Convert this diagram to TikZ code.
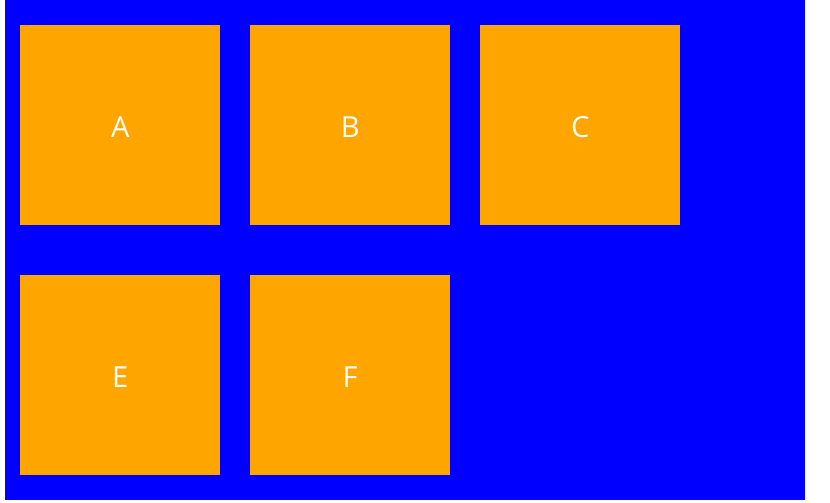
\documentclass[tikz,border=0pt]{standalone}
\usepackage{fontspec}
\setmainfont{Open Sans}
\begin{document}
\begin{tikzpicture}[x=1bp,y=-1bp,
  cell/.style={fill={rgb,255:red,255;green,165;blue,0}, draw=none, minimum width=200bp, minimum height=200bp, inner sep=0pt, text=white, font=\fontsize{29bp}{34bp}\selectfont, anchor=north west, text height=25bp, text depth=0bp}]
\useasboundingbox (0,0) rectangle (830,503);
\fill[fill={rgb,255:red,0;green,0;blue,255}] (5,0) rectangle (805,500);
\node[cell] (A) at (20,25) {A};
\node[cell] (B) at (250,25) {B};
\node[cell] (C) at (480,25) {C};
\node[cell] (E) at (20,275) {E};
\node[cell] (F) at (250,275) {F};
\end{tikzpicture}
\end{document}
